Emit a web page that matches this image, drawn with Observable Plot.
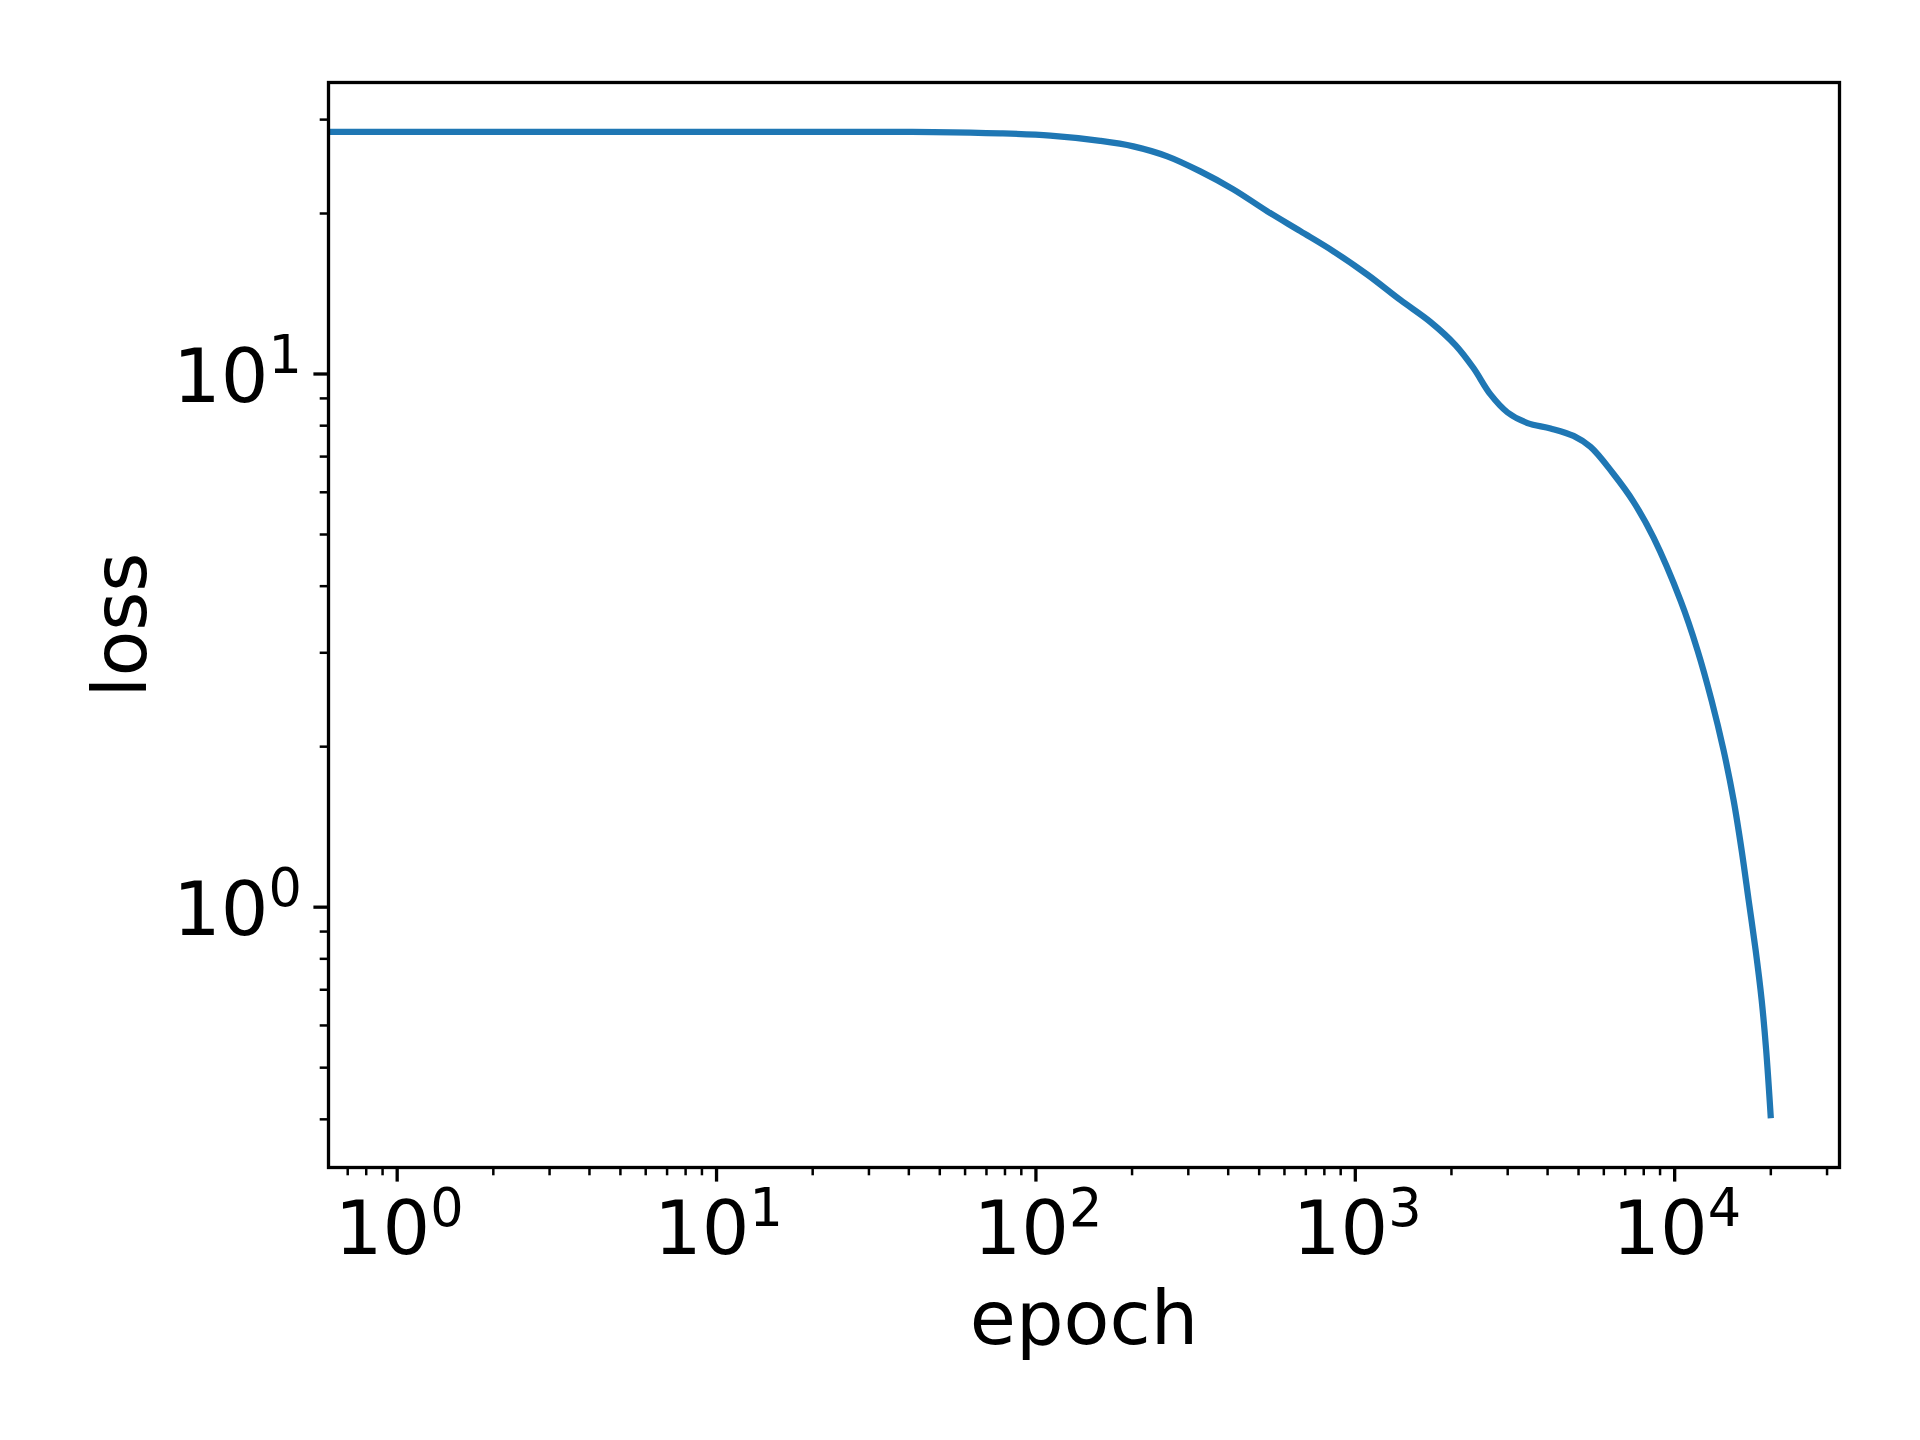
<!DOCTYPE html>
<html>
<head>
<meta charset="utf-8">
<script src="https://cdn.jsdelivr.net/npm/d3@7"></script>
<script src="https://cdn.jsdelivr.net/npm/@observablehq/plot@0.6"></script>
<style>
  html, body { margin: 0; padding: 0; background: #ffffff; }
  #chart svg { display: block; }
</style>
</head>
<body>
<div id="chart"></div>
<script>
// ---- data ----
const epochs = [0, 1, 3, 10, 30, 47.7, 77.3, 110.9, 159, 201.8, 257.8, 327.1, 415, 530.5, 673, 853.9,
  1091, 1385, 1719, 2059, 2344, 2650, 2995, 3461, 4086, 4824, 5453, 6390, 7434, 8588, 10435, 11797,
  13050, 14230, 15296, 16205, 17043, 17924, 18720, 19337, 20000];
const losses = [28.46, 28.46, 28.46, 28.46, 28.45, 28.43, 28.27, 27.99, 27.37, 26.73, 25.60, 23.99,
  22.20, 20.19, 18.53, 16.99, 15.36, 13.76, 12.52, 11.33, 10.26, 9.155, 8.473, 8.091, 7.905, 7.654,
  7.298, 6.527, 5.758, 4.931, 3.757, 3.029, 2.441, 1.968, 1.586, 1.279, 1.031, 0.831, 0.670, 0.540, 0.402];

const xMajorTicks = [1, 10, 100, 1000, 10000];
const xTickExponents = ["0", "1", "2", "3", "4"];
const yMajorTicks = [1, 10];
const yTickExponents = ["0", "1"];
const tickBase = "10";
const xLabel = "epoch";
const yLabel = "loss";

// ---- derived (matplotlib-like log autoscale with 5% margins) ----
const data = epochs.map((e, i) => ({ epoch: e > 0 ? e : 1e-300, loss: losses[i] }));
const posEpochs = epochs.filter(e => e > 0);
function logDomain(lo, hi) {
  const a = Math.log10(lo), b = Math.log10(hi), m = (b - a) * 0.05;
  return [10 ** (a - m), 10 ** (b + m)];
}
const xDomain = logDomain(d3.min(posEpochs), d3.max(posEpochs));
const yDomain = logDomain(d3.min(losses), d3.max(losses));
function minorTicks([lo, hi]) {
  const t = [];
  for (let k = Math.floor(Math.log10(lo)); k <= Math.ceil(Math.log10(hi)); k++)
    for (let m = 2; m <= 9; m++) { const v = m * 10 ** k; if (v >= lo && v <= hi) t.push(v); }
  return t;
}
const xMinor = minorTicks(xDomain);
const yMinor = minorTicks(yDomain);

const blue = "#1f77b4";
const FS = 75, FS_SUP = 52.5;

const chart = Plot.plot({
  width: 1920,
  height: 1440,
  marginLeft: 328,
  marginRight: 81,
  marginTop: 82,
  marginBottom: 273,
  style: { fontFamily: "'DejaVu Sans', sans-serif", background: "#ffffff", color: "#000000", overflow: "visible" },
  x: { type: "log", domain: xDomain },
  y: { type: "log", domain: yDomain },
  marks: [
    Plot.line(data, { x: "epoch", y: "loss", stroke: blue, strokeWidth: 6.25, curve: "catmull-rom",
      clip: true, strokeLinecap: "butt", strokeLinejoin: "round" }),
    Plot.frame({ stroke: "#000000", strokeWidth: 3.3 }),
    // ticks
    Plot.axisX(xMinor, { tickSize: 8.3, strokeWidth: 2.5, tickFormat: () => "", label: null }),
    Plot.axisX(xMajorTicks, { tickSize: 14.6, strokeWidth: 3.3, tickFormat: () => "", label: null }),
    Plot.axisY(yMinor, { tickSize: 8.3, strokeWidth: 2.5, tickFormat: () => "", label: null }),
    Plot.axisY(yMajorTicks, { tickSize: 14.6, strokeWidth: 3.3, tickFormat: () => "", label: null }),
    // x tick labels 10^k
    Plot.text(xMajorTicks, { x: d => d, text: () => tickBase, frameAnchor: "bottom", lineAnchor: "bottom",
      textAnchor: "end", dx: 33, dy: 86, fontSize: FS, fill: "#000000" }),
    Plot.text(xMajorTicks, { x: d => d, text: (d, i) => xTickExponents[i], frameAnchor: "bottom", lineAnchor: "bottom",
      textAnchor: "start", dx: 33, dy: 58, fontSize: FS_SUP, fill: "#000000" }),
    // y tick labels 10^k
    Plot.text(yMajorTicks, { y: d => d, text: () => tickBase, frameAnchor: "left", lineAnchor: "bottom",
      textAnchor: "end", dx: -60, dy: 27.5, fontSize: FS, fill: "#000000" }),
    Plot.text(yMajorTicks, { y: d => d, text: (d, i) => yTickExponents[i], frameAnchor: "left", lineAnchor: "bottom",
      textAnchor: "start", dx: -60, dy: -1.5, fontSize: FS_SUP, fill: "#000000" }),
    // axis labels
    Plot.text([xLabel], { text: d => d, frameAnchor: "bottom", lineAnchor: "bottom", textAnchor: "middle",
      dy: 176, fontSize: FS, fill: "#000000" }),
    Plot.text([yLabel], { text: d => d, frameAnchor: "left", lineAnchor: "bottom", textAnchor: "middle",
      rotate: -90, dx: -183, fontSize: FS, fill: "#000000" })
  ]
});
document.getElementById("chart").appendChild(chart);
</script>
</body>
</html>
